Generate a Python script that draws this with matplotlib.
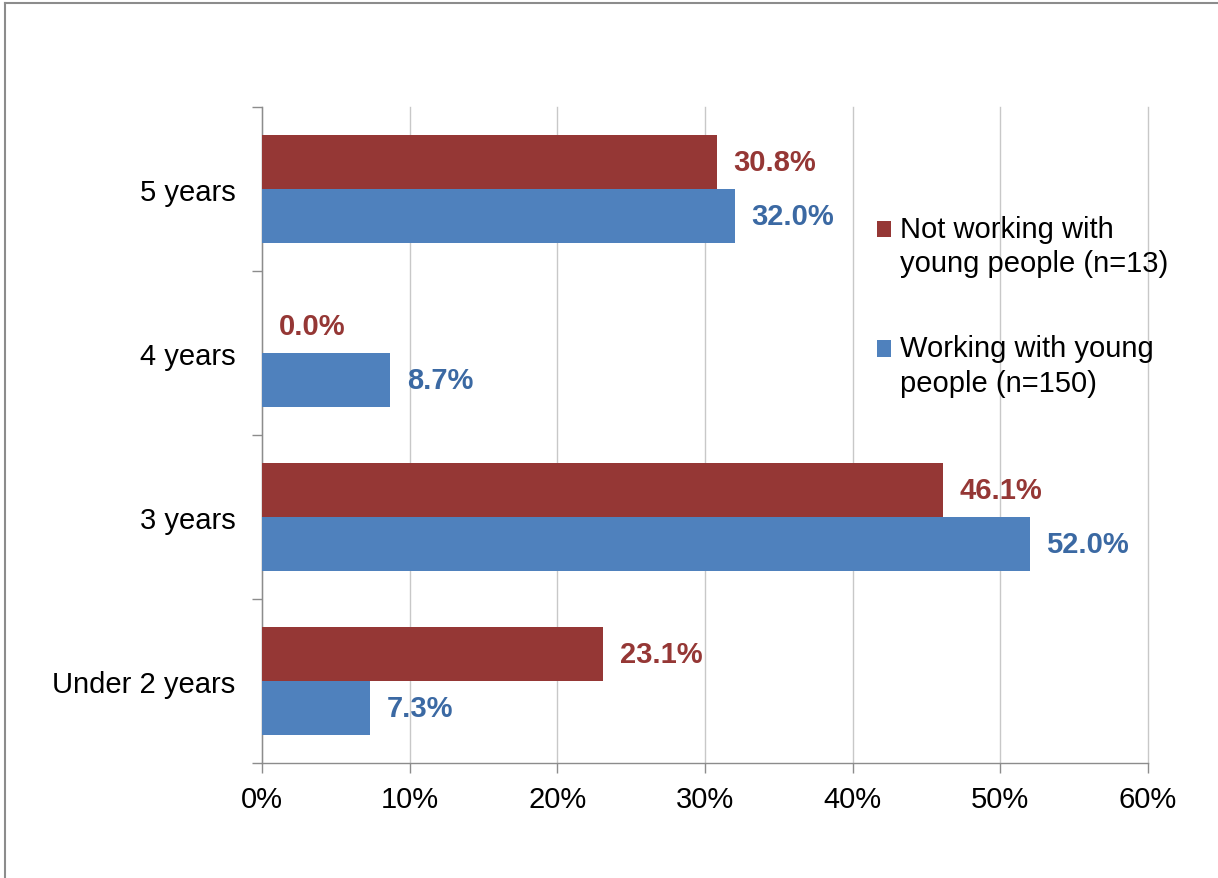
import matplotlib.pyplot as plt
from matplotlib.ticker import FuncFormatter, FixedLocator
from matplotlib.lines import Line2D
from matplotlib.patches import Rectangle
from matplotlib.legend_handler import HandlerPatch

plt.rcParams['font.family'] = ['Liberation Sans', 'DejaVu Sans']

# bottom to top
categories = ['Under 2 years', '3 years', '4 years', '5 years']
not_working = [23.1, 46.1, 0.0, 30.8]
working = [7.3, 52.0, 8.7, 32.0]
series_names = ['Not working with\nyoung people (n=13)',
                'Working with young\npeople (n=150)']

red = '#953735'
blue = '#4F81BD'
red_txt = '#953735'
blue_txt = '#3B69A3'
grey = '#8C8C8C'

fig = plt.figure(figsize=(12.18, 8.79), dpi=100)
ax = fig.add_axes([0.2151, 0.1308, 0.7274, 0.7463])

y = list(range(len(categories)))
h = 0.33
b1 = ax.barh([v + h / 2 for v in y], not_working, height=h, color=red, zorder=3)
b2 = ax.barh([v - h / 2 for v in y], working, height=h, color=blue, zorder=3)

for i in y:
    ax.annotate(f'{not_working[i]:.1f}%', (not_working[i], i + h / 2),
                xytext=(12, 0), textcoords='offset points', va='center',
                ha='left', color=red_txt, fontsize=21, fontweight='bold')
    ax.annotate(f'{working[i]:.1f}%', (working[i], i - h / 2),
                xytext=(12, 0), textcoords='offset points', va='center',
                ha='left', color=blue_txt, fontsize=21, fontweight='bold')

ax.set_xlim(0, 60)
ax.set_ylim(-0.5, len(categories) - 0.5)
ax.set_xticks(range(0, 61, 10))
ax.xaxis.set_major_formatter(FuncFormatter(lambda v, p: f'{v:.0f}%'))
ax.set_yticks(y)
ax.set_yticklabels(categories)
ax.yaxis.set_minor_locator(FixedLocator([v - 0.5 for v in range(len(categories) + 1)]))

ax.tick_params(axis='x', length=7, width=1, color=grey, labelsize=21, pad=9)
ax.tick_params(axis='y', which='major', length=0, labelsize=21, pad=19)
ax.tick_params(axis='y', which='minor', length=7, width=1, color=grey)

ax.grid(axis='x', color='#C8C8C8', linewidth=1, zorder=0, clip_on=False)
for s in ['top', 'right']:
    ax.spines[s].set_visible(False)
for s in ['left', 'bottom']:
    ax.spines[s].set_color(grey)
    ax.spines[s].set_linewidth(1)


# legend square sits next to the first line of a two-line label
def top_square(legend, orig_handle, xdescent, ydescent, width, height, fontsize):
    return Rectangle((-xdescent, -ydescent + 0.6 * fontsize), width, height)


leg = ax.legend([b1.patches[0], b2.patches[0]], series_names,
                loc='upper left', bbox_to_anchor=(0.694, 0.836),
                frameon=False, fontsize=21, handlelength=0.5, handleheight=0.5,
                handletextpad=0.3, labelspacing=1.95, borderpad=0, borderaxespad=0,
                handler_map={Rectangle: HandlerPatch(patch_func=top_square)})
for t in leg.get_texts():
    t.set_linespacing(1.3)

# outer frame
fig.add_artist(Line2D([0.0045, 0.0045], [0, 0.9955], transform=fig.transFigure,
                      color='#8C8C8C', linewidth=1.5))
fig.add_artist(Line2D([0.0045, 1], [0.9955, 0.9955], transform=fig.transFigure,
                      color='#8C8C8C', linewidth=1.5))

fig.savefig('out.png', dpi=100)
